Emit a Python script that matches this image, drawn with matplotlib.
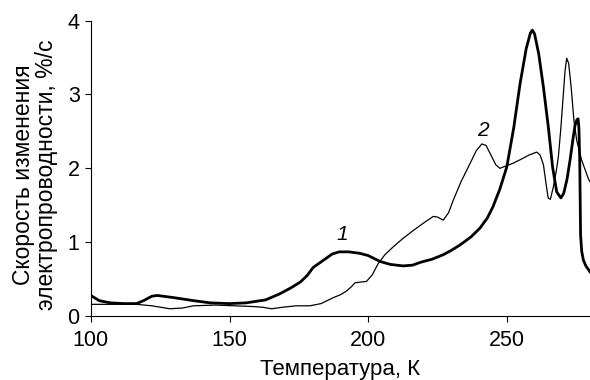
import matplotlib.pyplot as plt

plt.rcParams['font.family'] = ['Liberation Sans', 'DejaVu Sans']

# кривая 1 (толстая)
temp_1 = [100, 103, 107, 112, 116.5, 119, 122, 124, 130, 137, 143, 150, 156, 163,
          168, 172, 175.5, 178, 180.2, 184, 187, 189.5, 193, 197, 200, 204.3, 208,
          212.6, 216, 219, 223, 227, 230, 233, 237, 240.3, 243, 245, 247.5, 250,
          252.5, 254.8, 257, 258.5, 259.2, 260, 261.5, 263.2, 265, 266.5, 268,
          269.5, 270.5, 271.7, 272.8, 273.8, 274.6, 275.3, 275.7, 276.0, 276.3,
          276.6, 277, 277.6, 278.5, 280]
rate_1 = [0.28, 0.21, 0.18, 0.17, 0.17, 0.21, 0.27, 0.28, 0.25, 0.21, 0.18, 0.17,
          0.18, 0.22, 0.30, 0.38, 0.46, 0.55, 0.66, 0.76, 0.84, 0.87, 0.87, 0.85,
          0.82, 0.74, 0.70, 0.68, 0.69, 0.73, 0.77, 0.83, 0.89, 0.96, 1.07, 1.19,
          1.33, 1.48, 1.72, 2.02, 2.55, 3.15, 3.62, 3.83, 3.87, 3.82, 3.55, 3.10,
          2.55, 2.02, 1.68, 1.60, 1.66, 1.85, 2.11, 2.38, 2.58, 2.66, 2.67, 2.55,
          2.10, 1.10, 0.88, 0.76, 0.68, 0.60]

# кривая 2 (тонкая)
temp_2 = [100, 108, 116.5, 122, 128.5, 133, 137, 145, 152, 158.6, 162, 165.2, 169,
          174, 179, 183, 187.4, 190, 192.2, 194, 195.2, 197, 199.4, 201.5, 203.6,
          206, 209.1, 212.5, 216.3, 220, 223.5, 225, 227.1, 229, 230.7, 233.5,
          236.8, 239, 241, 242.5, 244, 246, 247.5, 249.5, 252.3, 255, 258, 260.8,
          262, 263.2, 264.2, 264.9, 265.7, 266.8, 268, 268.6, 269.5, 270.4, 271,
          271.6, 272.3, 273.2, 274.2, 275.2, 277, 279.4, 280]
rate_2 = [0.16, 0.16, 0.16, 0.14, 0.10, 0.11, 0.14, 0.15, 0.14, 0.13, 0.12, 0.10,
          0.12, 0.14, 0.14, 0.17, 0.25, 0.29, 0.34, 0.40, 0.45, 0.46, 0.47, 0.56,
          0.71, 0.83, 0.94, 1.05, 1.16, 1.26, 1.35, 1.34, 1.30, 1.40, 1.57, 1.82,
          2.07, 2.24, 2.33, 2.31, 2.20, 2.05, 2.00, 2.03, 2.07, 2.12, 2.18, 2.22,
          2.18, 2.05, 1.78, 1.60, 1.58, 1.75, 2.00, 2.16, 2.55, 3.01, 3.32, 3.49,
          3.42, 3.10, 2.65, 2.38, 2.11, 1.86, 1.82]

fig = plt.figure(figsize=(5.9, 3.8), dpi=100)
ax = fig.add_axes([0.154, 0.168, 0.846, 0.778])

ax.plot(temp_1, rate_1, color='black', lw=2.0, solid_joinstyle='round')
ax.plot(temp_2, rate_2, color='black', lw=0.9, solid_joinstyle='round')

ax.text(190.5, 0.97, '1', fontsize=15, style='italic', ha='center', va='bottom')
ax.text(241.5, 2.38, '2', fontsize=15, style='italic', ha='center', va='bottom')

ax.set_xlim(100, 280)
ax.set_ylim(0, 4)
ax.set_xticks([100, 150, 200, 250])
ax.set_yticks([0, 1, 2, 3, 4])
ax.spines['top'].set_visible(False)
ax.spines['right'].set_visible(False)
ax.tick_params(direction='out', length=4.5, width=0.8, labelsize=15.5)
ax.tick_params(axis='x', pad=5.5)
ax.tick_params(axis='y', pad=3.5)

ax.set_xlabel('Температура, К', fontsize=16)
ax.set_ylabel('Скорость изменения\nэлектропроводности, %/с', fontsize=16.5,
              linespacing=1.0)
ax.xaxis.set_label_coords(0.5, -0.145)
ax.yaxis.set_label_coords(-0.066, 0.48)

fig.savefig('out.png', dpi=100)
